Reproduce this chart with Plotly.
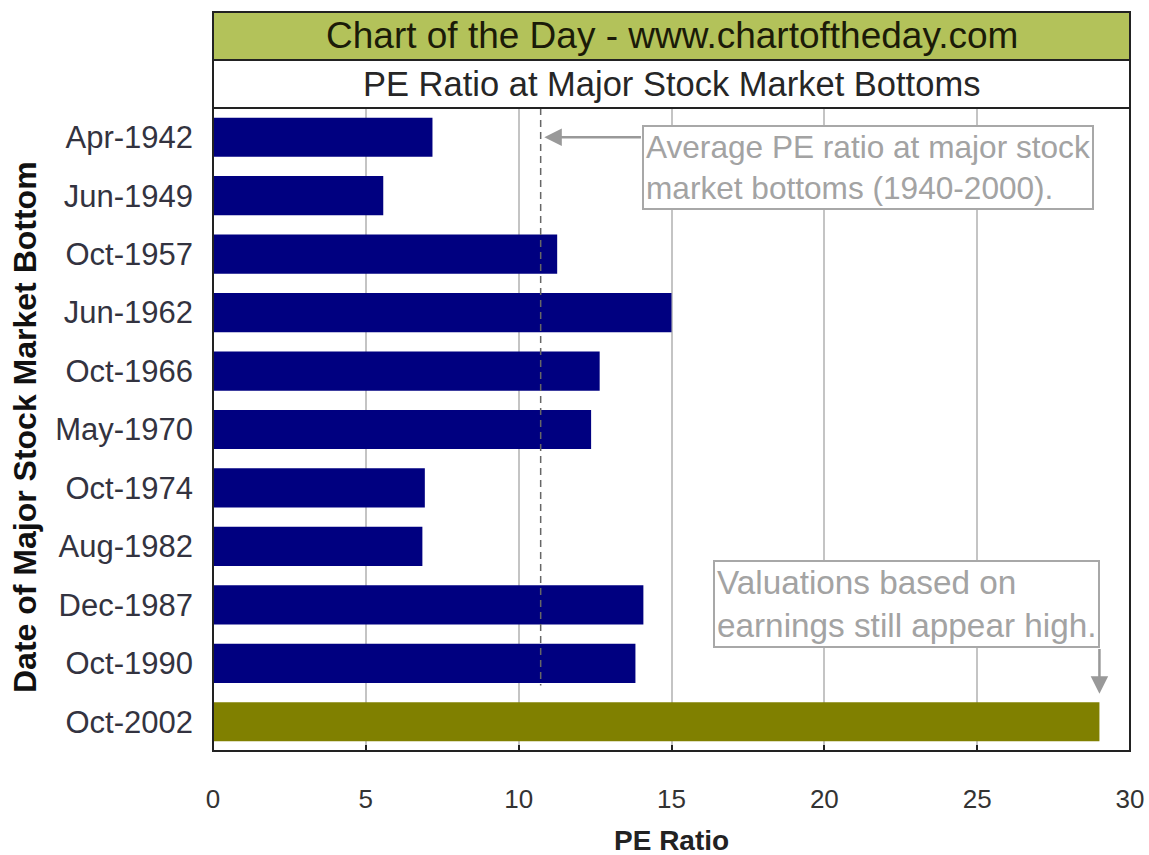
import plotly.graph_objects as go

# ---------------- data ----------------
dates = ["Apr-1942", "Jun-1949", "Oct-1957", "Jun-1962", "Oct-1966", "May-1970",
         "Oct-1974", "Aug-1982", "Dec-1987", "Oct-1990", "Oct-2002"]
pe_ratio = [7.18, 5.57, 11.26, 15.0, 12.65, 12.37, 6.93, 6.85, 14.08, 13.82, 29.0]
average_pe = 10.72
x_ticks = [0, 5, 10, 15, 20, 25, 30]
current_bottom = "Oct-2002"

title_main = "Chart of the Day - www.chartoftheday.com"
title_sub = "PE Ratio at Major Stock Market Bottoms"
note_avg = "Average PE ratio at major stock<br>market bottoms (1940-2000)."
note_now = "Valuations based on<br>earnings still appear high."

# ---------------- style ----------------
NAVY = "#000080"
OLIVE = "#808000"
HEADER = "#B3C25A"
FONT = "Liberation Sans, Arial, sans-serif"
NOTE_GRAY = "#A3A3A3"

W, H = 1149, 855
L, R, T, B = 213, 19, 108, 104
plot_h = H - T - B


def py(pix):
    return (H - B - pix) / plot_h


bar_colors = [OLIVE if d == current_bottom else NAVY for d in dates]

fig = go.Figure()
fig.add_trace(go.Bar(
    x=pe_ratio, y=dates, orientation="h",
    marker=dict(color=bar_colors, line=dict(width=0)),
    hoverinfo="x+y", showlegend=False,
))

shapes = [
    # header boxes
    dict(type="rect", xref="paper", yref="paper", x0=0, x1=1, y0=py(60), y1=py(12),
         fillcolor=HEADER, line=dict(color="#222222", width=2), layer="above"),
    dict(type="rect", xref="paper", yref="paper", x0=0, x1=1, y0=1, y1=py(60),
         fillcolor="white", line=dict(color="#222222", width=2), layer="above"),
    # average line
    dict(type="line", xref="x", yref="y", x0=average_pe, x1=average_pe,
         y0=-0.5, y1=len(dates) - 1.62,
         line=dict(color="#666666", width=1.5, dash="7px,5px"), layer="above"),
    # plot frame
    dict(type="rect", xref="paper", yref="paper", x0=0, x1=1, y0=0, y1=1,
         line=dict(color="#222222", width=2), layer="above"),
]

box_avg_x = 14.05
box_now_x = 16.37

annotations = [
    dict(text=title_main, xref="paper", yref="paper", x=0.5, y=py(36),
         showarrow=False, font=dict(family=FONT, size=37, color="#1b1b08"),
         xanchor="center", yanchor="middle"),
    dict(text=title_sub, xref="paper", yref="paper", x=0.5, y=py(84),
         showarrow=False, font=dict(family=FONT, size=34.5, color="#262626"),
         xanchor="center", yanchor="middle"),
    # note boxes
    dict(text=note_avg, xref="x", yref="paper", x=box_avg_x, y=py(125),
         xanchor="left", yanchor="top", align="left", showarrow=False,
         font=dict(family=FONT, size=31.6, color=NOTE_GRAY),
         bordercolor="#A8A8A8", borderwidth=2, borderpad=2, bgcolor="white"),
    dict(text=note_now, xref="x", yref="paper", x=box_now_x, y=py(560),
         xanchor="left", yanchor="top", align="left", showarrow=False,
         font=dict(family=FONT, size=33.3, color=NOTE_GRAY),
         bordercolor="#A8A8A8", borderwidth=2, borderpad=2, bgcolor="white"),
    # arrows
    dict(text="", xref="x", yref="y", axref="x", ayref="y",
         x=average_pe + 0.12, y=0, ax=box_avg_x, ay=0,
         showarrow=True, arrowhead=2, arrowsize=1.4, arrowwidth=2.5,
         arrowcolor="#999999", standoff=0, startstandoff=0),
    dict(text="", xref="x", yref="y", axref="x", ayref="y",
         x=pe_ratio[-1], y=len(dates) - 1.48, ax=pe_ratio[-1], ay=len(dates) - 2.27,
         showarrow=True, arrowhead=2, arrowsize=1.4, arrowwidth=2.5,
         arrowcolor="#999999", standoff=0, startstandoff=0),
    # axis titles
    dict(text="<b>PE Ratio</b>", xref="paper", yref="paper", x=0.5, y=py(840),
         showarrow=False, font=dict(family=FONT, size=28, color="#222222"),
         xanchor="center", yanchor="middle"),
    dict(text="<b>Date of Major Stock Market Bottom</b>", xref="paper", yref="paper",
         x=(25 - L) / (W - L - R), y=py(427), textangle=-90, showarrow=False,
         font=dict(family=FONT, size=32, color="#111111"),
         xanchor="center", yanchor="middle"),
]

fig.update_layout(
    width=W, height=H,
    margin=dict(l=L, r=R, t=T, b=B, autoexpand=False),
    paper_bgcolor="white", plot_bgcolor="white",
    bargap=0.33,
    shapes=shapes, annotations=annotations,
    xaxis=dict(range=[0, 30], tickvals=x_ticks, ticktext=[str(v) for v in x_ticks],
               showgrid=True, gridcolor="#C4C4C4", gridwidth=1.5,
               ticks="inside", ticklen=6, tickcolor="#222222", tickwidth=1.5,
               ticklabelstandoff=30, zeroline=False, showline=False,
               tickfont=dict(family=FONT, size=26, color="#333333"),
               fixedrange=True),
    yaxis=dict(categoryorder="array", categoryarray=dates,
               range=[len(dates) - 0.5, -0.5], showgrid=False, zeroline=False,
               ticks="", ticklabelstandoff=19, showline=False,
               tickfont=dict(family=FONT, size=31, color="#333340"),
               fixedrange=True),
    font=dict(family=FONT),
)

fig.write_html("out.html")
